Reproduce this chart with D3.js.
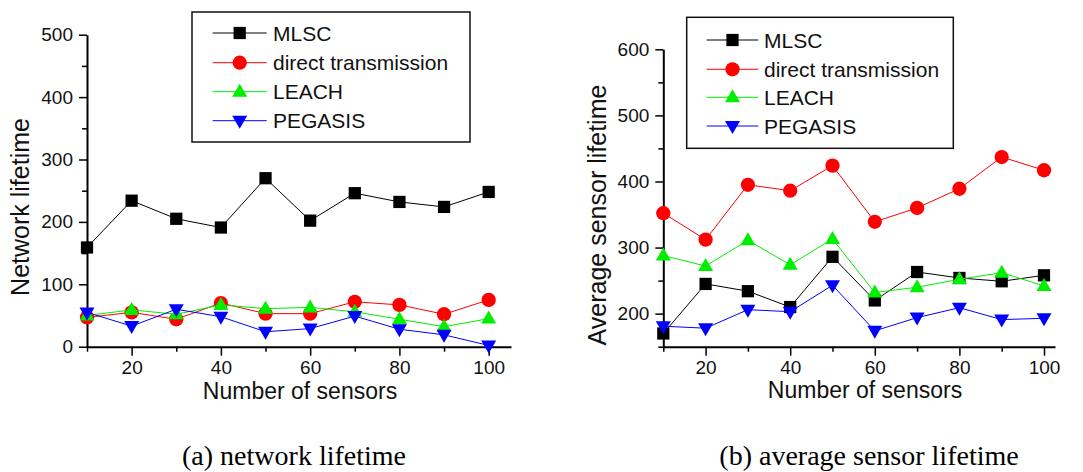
<!DOCTYPE html>
<html>
<head>
<meta charset="utf-8">
<script src="https://cdn.jsdelivr.net/npm/d3@7"></script>
<style>
body { margin: 0; background: #fff; }
text { font-family: "Liberation Sans", Arial, sans-serif; }
</style>
</head>
<body>
<div id="my_dataviz"></div>
<script>
// data
var sensors = [10, 20, 30, 40, 50, 60, 70, 80, 90, 100];
var seriesNames = ["MLSC", "direct transmission", "LEACH", "PEGASIS"];

// (a) network lifetime
var netMLSC   = [159, 234, 205, 191, 270, 202, 246, 232, 224, 248];
var netDirect = [47, 55, 44, 70, 53, 53, 72, 67, 52, 75];
var netLEACH  = [50, 59, 52, 67, 61, 63, 56, 44, 32, 45];
var netPEG    = [55, 33, 60, 48, 24, 29, 49, 28, 19, 2];

// (b) average sensor lifetime
var avgMLSC   = [170, 245, 234, 210, 286, 220, 263, 254, 249, 258];
var avgDirect = [352, 312, 395, 386, 424, 339, 360, 389, 437, 417];
var avgLEACH  = [288, 272, 311, 274, 313, 232, 240, 252, 262, 242];
var avgPEG    = [181, 178, 206, 203, 243, 174, 194, 209, 191, 193];

var yTicksA = [0, 100, 200, 300, 400, 500];
var yTicksB = [200, 300, 400, 500, 600];
var xLabels = [20, 40, 60, 80, 100];

var colors = ["#000000", "#ff0000", "#00ee00", "#0000ff"];

var svg = d3.select("#my_dataviz")
  .append("svg")
  .attr("width", 1083)
  .attr("height", 472);

// square, circle, up triangle, down triangle
function markerPath(i) {
  if (i == 0) return d3.symbol().type(d3.symbolSquare).size(150)();
  if (i == 1) return d3.symbol().type(d3.symbolCircle).size(160)();
  if (i == 2) return "M0,-8L7.5,5L-7.5,5Z";
  return "M0,8L7.5,-5L-7.5,-5Z";
}

function drawPanel(opt) {
  var g = svg.append("g");
  var x = d3.scaleLinear().domain(opt.xDomain).range(opt.xRange);
  var y = d3.scaleLinear().domain(opt.yDomain).range(opt.yRange);

  // minor ticks on y
  var yMinor = d3.range(opt.yDomain[0], opt.yDomain[1], 50).filter(function (v) { return opt.yTicks.indexOf(v) < 0; });
  g.append("g")
    .attr("transform", "translate(" + opt.xRange[0] + ",0)")
    .call(d3.axisLeft(y).tickValues(yMinor).tickSize(5).tickFormat(""))
    .call(function (a) { a.select(".domain").remove(); })
    .selectAll("line").attr("stroke-width", 1.5);

  // minor ticks on x
  var xMinor = sensors.filter(function (v) { return xLabels.indexOf(v) < 0; });
  g.append("g")
    .attr("transform", "translate(0," + opt.yRange[0] + ")")
    .call(d3.axisBottom(x).tickValues(xMinor).tickSize(5).tickFormat(""))
    .call(function (a) { a.select(".domain").remove(); })
    .selectAll("line").attr("stroke-width", 1.5);

  // y axis
  var ya = g.append("g")
    .attr("transform", "translate(" + opt.xRange[0] + ",0)")
    .call(d3.axisLeft(y).tickValues(opt.yTicks).tickSize(8).tickSizeOuter(0).tickPadding(6));
  ya.select(".domain").attr("stroke-width", 2);
  ya.selectAll("line").attr("stroke-width", 1.5);
  ya.selectAll("text").style("font-size", "19px").attr("fill", "#111")
    .style("font-family", "Liberation Sans, Arial, sans-serif");

  // x axis
  var xa = g.append("g")
    .attr("transform", "translate(0," + opt.yRange[0] + ")")
    .call(d3.axisBottom(x).tickValues(xLabels).tickSize(9).tickSizeOuter(0).tickPadding(5));
  xa.select(".domain").attr("stroke-width", 2);
  xa.selectAll("line").attr("stroke-width", 1.5);
  xa.selectAll("text").style("font-size", "19px").attr("fill", "#111")
    .style("font-family", "Liberation Sans, Arial, sans-serif");

  // axis titles
  g.append("text")
    .attr("x", opt.xTitle[0]).attr("y", opt.xTitle[1])
    .attr("text-anchor", "middle")
    .style("font-size", "23px")
    .attr("fill", "#111")
    .text("Number of sensors");
  g.append("text")
    .attr("transform", "translate(" + opt.yTitle[0] + "," + opt.yTitle[1] + ") rotate(-90)")
    .attr("text-anchor", "middle")
    .style("font-size", "25px")
    .attr("fill", "#111")
    .text(opt.yTitleText);

  // lines and markers
  opt.series.forEach(function (vals, i) {
    var pts = sensors.map(function (s, k) { return { s: s, v: vals[k] }; });
    g.append("path")
      .datum(pts)
      .attr("fill", "none")
      .attr("stroke", colors[i])
      .attr("stroke-width", 1)
      .attr("d", d3.line()
        .x(function (d) { return x(d.s); })
        .y(function (d) { return y(d.v); }));
    g.append("g")
      .selectAll("path")
      .data(pts)
      .enter()
      .append("path")
      .attr("transform", function (d) { return "translate(" + x(d.s) + "," + y(d.v) + ")"; })
      .attr("d", markerPath(i))
      .attr("fill", colors[i]);
  });

  // legend
  var L = opt.legend;
  g.append("rect")
    .attr("x", L.x).attr("y", L.y).attr("width", L.w).attr("height", L.h)
    .attr("fill", "white").attr("stroke", "#111").attr("stroke-width", 1.5);
  seriesNames.forEach(function (name, i) {
    var ly = L.rows[i];
    g.append("line")
      .attr("x1", L.line[0]).attr("x2", L.line[1])
      .attr("y1", ly).attr("y2", ly)
      .attr("stroke", colors[i]).attr("stroke-width", 1);
    g.append("path")
      .attr("transform", "translate(" + ((L.line[0] + L.line[1]) / 2) + "," + ly + ")")
      .attr("d", markerPath(i))
      .attr("fill", colors[i]);
    g.append("text")
      .attr("x", L.textX).attr("y", ly + 7.5)
      .style("font-size", "21px")
      .attr("fill", "#111")
      .text(name);
  });

  // caption
  g.append("text")
    .attr("x", opt.caption[0]).attr("y", opt.caption[1])
    .attr("text-anchor", "middle")
    .style("font-family", "Liberation Serif, Times New Roman, serif")
    .style("font-size", "28px")
    .attr("fill", "#000")
    .text(opt.captionText);
}

drawPanel({
  xDomain: [10, 105], xRange: [87, 511],
  yDomain: [0, 500], yRange: [346.7, 34.7],
  yTicks: yTicksA,
  xTitle: [300, 399], yTitle: [29, 207], yTitleText: "Network lifetime",
  series: [netMLSC, netDirect, netLEACH, netPEG],
  legend: { x: 192, y: 12, w: 278, h: 130, rows: [33, 62.7, 91.7, 120.7], line: [212.7, 266.7], textX: 273 },
  caption: [294, 465], captionText: "(a) network lifetime"
});

drawPanel({
  xDomain: [10, 102.6], xRange: [663.3, 1055],
  yDomain: [150, 600], yRange: [346.7, 49.3],
  yTicks: yTicksB,
  xTitle: [865, 398], yTitle: [606, 215], yTitleText: "Average sensor lifetime",
  series: [avgMLSC, avgDirect, avgLEACH, avgPEG],
  legend: { x: 686.7, y: 17.3, w: 266.6, h: 131, rows: [40, 69.3, 97.3, 126], line: [706.7, 758.3], textX: 764 },
  caption: [869, 465], captionText: "(b) average sensor lifetime"
});
</script>
</body>
</html>
